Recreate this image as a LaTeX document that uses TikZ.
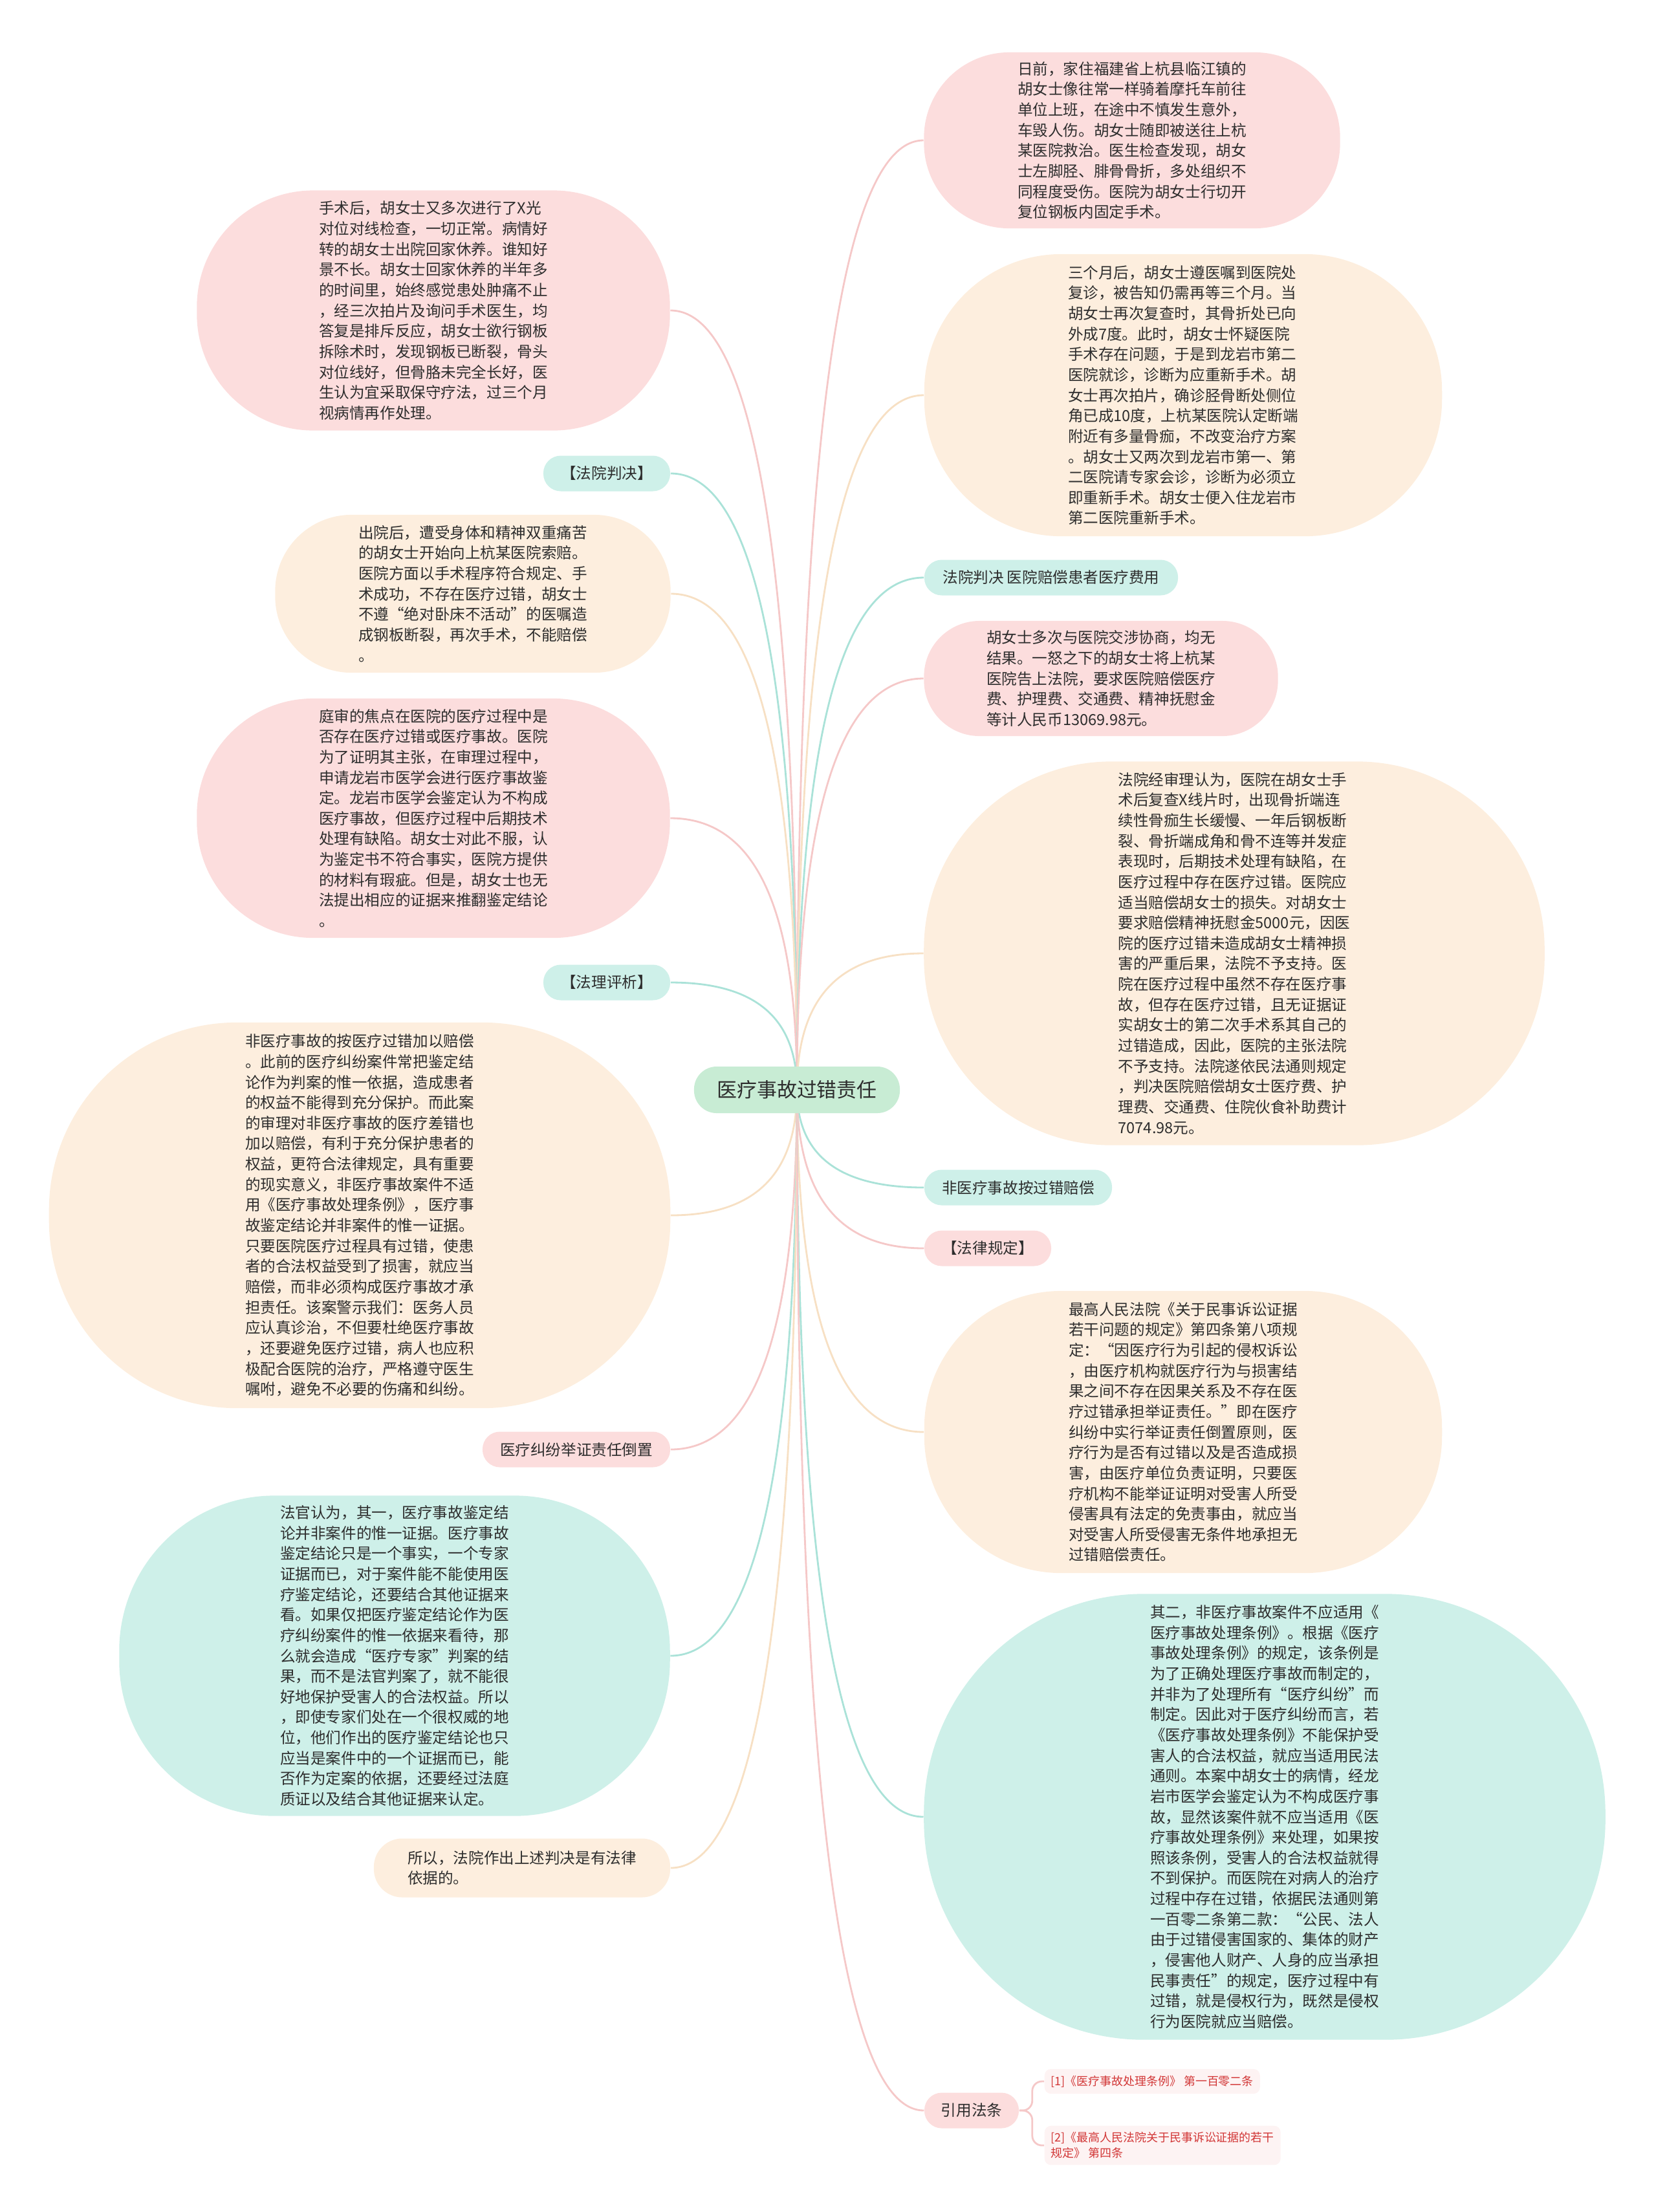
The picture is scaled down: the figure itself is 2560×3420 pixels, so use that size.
\documentclass[tikz,border=0pt]{standalone}
\usepackage{fontspec}
\setmainfont{Noto Sans CJK SC}
\usetikzlibrary{backgrounds,calc}
\definecolor{pinkbg}{RGB}{252,221,221}
\definecolor{beigebg}{RGB}{253,238,222}
\definecolor{tealbg}{RGB}{206,240,233}
\definecolor{rootbg}{RGB}{200,236,212}
\definecolor{pinkln}{RGB}{245,200,200}
\definecolor{beigeln}{RGB}{247,224,196}
\definecolor{tealln}{RGB}{170,226,216}
\definecolor{txtcol}{RGB}{45,45,45}
\definecolor{citered}{RGB}{210,55,55}
\definecolor{citebg}{RGB}{253,243,243}
\newcommand{\mmbody}{\fontsize{6.7pt}{9pt}\selectfont}
\newcommand{\mmroot}{\fontsize{8.8pt}{10pt}\selectfont}
\newcommand{\mmcite}{\fontsize{5.1pt}{6.8pt}\selectfont}

\begin{document}
\begin{tikzpicture}[
  x=0.01cm, y=-0.01cm,
  blob/.style={inner sep=0pt, align=left, font=\mmbody, text=txtcol},
  pinknode/.style={blob, fill=pinkbg},
  beigenode/.style={blob, fill=beigebg},
  tealnode/.style={blob, fill=tealbg},
  dims/.style n args={3}{minimum width=#1cm, minimum height=#2cm, rounded corners=#3cm},
  pill/.style={minimum height=0.55cm, rounded corners=0.27cm},
  rootnode/.style={fill=rootbg, text=txtcol, font=\mmroot, inner sep=0pt,
                   minimum width=3.18cm, minimum height=0.72cm, rounded corners=0.35cm},
  citebox/.style={fill=citebg, text=citered, font=\mmcite, align=left,
                  inner xsep=0.1cm, inner ysep=0.1cm, rounded corners=0.1cm},
  pinkedge/.style={draw=pinkln, line width=0.8pt},
  beigeedge/.style={draw=beigeln, line width=0.8pt},
  tealedge/.style={draw=tealln, line width=0.8pt},
]
\useasboundingbox (0,0) rectangle (2560,3420);

% Root
\node[rootnode] (root) at (1232,1685) {医疗事故过错责任};

% Left branch
\node[pinknode, dims={7.31}{3.71}{1.80}] (xray) at (670,480)
  {手术后，胡女士又多次进行了X光\\对位对线检查，一切正常。病情好\\转的胡女士出院回家休养。谁知好\\景不长。胡女士回家休养的半年多\\的时间里，始终感觉患处肿痛不止\\，经三次拍片及询问手术医生，均\\答复是排斥反应，胡女士欲行钢板\\拆除术时，发现钢板已断裂，骨头\\对位线好，但骨胳未完全长好，医\\生认为宜采取保守疗法，过三个月\\视病情再作处理。};
\node[tealnode, pill, minimum width=1.96cm] (courtlbl) at (938,732) {【法院判决】};
\node[beigenode, dims={6.11}{2.44}{1.18}] (hospital) at (731,918)
  {出院后，遭受身体和精神双重痛苦\\的胡女士开始向上杭某医院索赔。\\医院方面以手术程序符合规定、手\\术成功，不存在医疗过错，胡女士\\不遵“绝对卧床不活动”的医嘱造\\成钢板断裂，再次手术，不能赔偿\\。};
\node[pinknode, dims={7.31}{3.70}{1.80}] (trial) at (670,1265)
  {庭审的焦点在医院的医疗过程中是\\否存在医疗过错或医疗事故。医院\\为了证明其主张，在审理过程中，\\申请龙岩市医学会进行医疗事故鉴\\定。龙岩市医学会鉴定认为不构成\\医疗事故，但医疗过程中后期技术\\处理有缺陷。胡女士对此不服，认\\为鉴定书不符合事实，医院方提供\\的材料有瑕疵。但是，胡女士也无\\法提出相应的证据来推翻鉴定结论\\。};
\node[tealnode, pill, minimum width=1.96cm] (analysislbl) at (938,1519) {【法理评析】};
\node[beigenode, dims={9.60}{5.96}{2.90}] (analysis) at (556,1879)
  {非医疗事故的按医疗过错加以赔偿\\。此前的医疗纠纷案件常把鉴定结\\论作为判案的惟一依据，造成患者\\的权益不能得到充分保护。而此案\\的审理对非医疗事故的医疗差错也\\加以赔偿，有利于充分保护患者的\\权益，更符合法律规定，具有重要\\的现实意义，非医疗事故案件不适\\用《医疗事故处理条例》，医疗事\\故鉴定结论并非案件的惟一证据。\\只要医院医疗过程具有过错，使患\\者的合法权益受到了损害，就应当\\赔偿，而非必须构成医疗事故才承\\担责任。该案警示我们：医务人员\\应认真诊治，不但要杜绝医疗事故\\，还要避免医疗过错，病人也应积\\极配合医院的治疗，严格遵守医生\\嘱咐，避免不必要的伤痛和纠纷。};
\node[pinknode, pill, minimum width=2.90cm] (burden) at (891,2241) {医疗纠纷举证责任倒置};
\node[tealnode, dims={8.51}{4.95}{2.40}] (judge) at (610,2560)
  {法官认为，其一，医疗事故鉴定结\\论并非案件的惟一证据。医疗事故\\鉴定结论只是一个事实，一个专家\\证据而已，对于案件能不能使用医\\疗鉴定结论，还要结合其他证据来\\看。如果仅把医疗鉴定结论作为医\\疗纠纷案件的惟一依据来看待，那\\么就会造成“医疗专家”判案的结\\果，而不是法官判案了，就不能很\\好地保护受害人的合法权益。所以\\，即使专家们处在一个很权威的地\\位，他们作出的医疗鉴定结论也只\\应当是案件中的一个证据而已，能\\否作为定案的依据，还要经过法庭\\质证以及结合其他证据来认定。};
\node[beigenode, dims={4.58}{0.91}{0.44}] (conclusion) at (807,2888)
  {所以，法院作出上述判决是有法律\\依据的。};

% Right branch
\node[pinknode, dims={6.43}{2.72}{1.32}] (onset) at (1750,217)
  {日前，家住福建省上杭县临江镇的\\胡女士像往常一样骑着摩托车前往\\单位上班，在途中不慎发生意外，\\车毁人伤。胡女士随即被送往上杭\\某医院救治。医生检查发现，胡女\\士左脚胫、腓骨骨折，多处组织不\\同程度受伤。医院为胡女士行切开\\复位钢板内固定手术。};
\node[beigenode, dims={8.00}{4.36}{2.12}] (review) at (1829,611)
  {三个月后，胡女士遵医嘱到医院处\\复诊，被告知仍需再等三个月。当\\胡女士再次复查时，其骨折处已向\\外成7度。此时，胡女士怀疑医院\\手术存在问题，于是到龙岩市第二\\医院就诊，诊断为应重新手术。胡\\女士再次拍片，确诊胫骨断处侧位\\角已成10度，上杭某医院认定断端\\附近有多量骨痂，不改变治疗方案\\。胡女士又两次到龙岩市第一、第\\二医院请专家会诊，诊断为必须立\\即重新手术。胡女士便入住龙岩市\\第二医院重新手术。};
\node[tealnode, pill, minimum width=3.92cm] (verdictlbl) at (1625,893) {法院判决 医院赔偿患者医疗费用};
\node[pinknode, dims={5.47}{1.78}{0.86}] (claim) at (1702,1049)
  {胡女士多次与医院交涉协商，均无\\结果。一怒之下的胡女士将上杭某\\医院告上法院，要求医院赔偿医疗\\费、护理费、交通费、精神抚慰金\\等计人民币13069.98元。};
\node[beigenode, dims={9.59}{5.93}{2.90}] (ruling) at (1908,1474)
  {法院经审理认为，医院在胡女士手\\术后复查X线片时，出现骨折端连\\续性骨痂生长缓慢、一年后钢板断\\裂、骨折端成角和骨不连等并发症\\表现时，后期技术处理有缺陷，在\\医疗过程中存在医疗过错。医院应\\适当赔偿胡女士的损失。对胡女士\\要求赔偿精神抚慰金5000元，因医\\院的医疗过错未造成胡女士精神损\\害的严重后果，法院不予支持。医\\院在医疗过程中虽然不存在医疗事\\故，但存在医疗过错，且无证据证\\实胡女士的第二次手术系其自己的\\过错造成，因此，医院的主张法院\\不予支持。法院遂依民法通则规定\\，判决医院赔偿胡女士医疗费、护\\理费、交通费、住院伙食补助费计\\7074.98元。};
\node[tealnode, pill, minimum width=2.90cm] (nonacc) at (1574,1836) {非医疗事故按过错赔偿};
\node[pinknode, pill, minimum width=1.96cm] (lawlbl) at (1527,1930) {【法律规定】};
\node[beigenode, dims={8.00}{4.36}{2.12}] (lawtext) at (1829,2214)
  {最高人民法院《关于民事诉讼证据\\若干问题的规定》第四条第八项规\\定：“因医疗行为引起的侵权诉讼\\，由医疗机构就医疗行为与损害结\\果之间不存在因果关系及不存在医\\疗过错承担举证责任。”即在医疗\\纠纷中实行举证责任倒置原则，医\\疗行为是否有过错以及是否造成损\\害，由医疗单位负责证明，只要医\\疗机构不能举证证明对受害人所受\\侵害具有法定的免责事由，就应当\\对受害人所受侵害无条件地承担无\\过错赔偿责任。};
\node[tealnode, dims={10.53}{6.89}{3.40}] (second) at (1955,2809)
  {其二，非医疗事故案件不应适用《\\医疗事故处理条例》。根据《医疗\\事故处理条例》的规定，该条例是\\为了正确处理医疗事故而制定的，\\并非为了处理所有“医疗纠纷”而\\制定。因此对于医疗纠纷而言，若\\《医疗事故处理条例》不能保护受\\害人的合法权益，就应当适用民法\\通则。本案中胡女士的病情，经龙\\岩市医学会鉴定认为不构成医疗事\\故，显然该案件就不应当适用《医\\疗事故处理条例》来处理，如果按\\照该条例，受害人的合法权益就得\\不到保护。而医院在对病人的治疗\\过程中存在过错，依据民法通则第\\一百零二条第二款：“公民、法人\\由于过错侵害国家的、集体的财产\\，侵害他人财产、人身的应当承担\\民事责任”的规定，医疗过程中有\\过错，就是侵权行为，既然是侵权\\行为医院就应当赔偿。};
\node[pinknode, pill, minimum width=1.46cm] (cite) at (1502,3263) {引用法条};
\node[citebox, anchor=west] (cite1) at (1614,3218) {[1]《医疗事故处理条例》 第一百零二条};
\node[citebox, anchor=west] (cite2) at (1614,3317) {[2]《最高人民法院关于民事诉讼证据的若干\\规定》 第四条};

% Connectors, behind the root
\begin{scope}[on background layer]
\foreach \n/\e in {xray/pinkedge, courtlbl/tealedge, hospital/beigeedge,
    trial/pinkedge, analysislbl/tealedge, analysis/beigeedge,
    burden/pinkedge, judge/tealedge, conclusion/beigeedge}{
  \coordinate (k) at (root.center |- \n.east);
  \draw[\e] (root.center) .. controls ($(root.center)!0.67!(k)$)
    and ($(\n.east)!0.67!(k)$) .. (\n.east);
}
\foreach \n/\e in {onset/pinkedge, review/beigeedge, verdictlbl/tealedge,
    claim/pinkedge, ruling/beigeedge, nonacc/tealedge, lawlbl/pinkedge,
    lawtext/beigeedge, second/tealedge, cite/pinkedge}{
  \coordinate (k) at (root.center |- \n.west);
  \draw[\e] (root.center) .. controls ($(root.center)!0.67!(k)$)
    and ($(\n.west)!0.67!(k)$) .. (\n.west);
}
\end{scope}

% Citation bracket
\coordinate (citej) at ([xshift=0.2cm]cite.east);
\draw[pinkedge, rounded corners=0.15cm] (cite.east) -- (citej) |- (cite1.west);
\draw[pinkedge, rounded corners=0.15cm] (cite.east) -- (citej) |- (cite2.west);

\end{tikzpicture}
\end{document}
